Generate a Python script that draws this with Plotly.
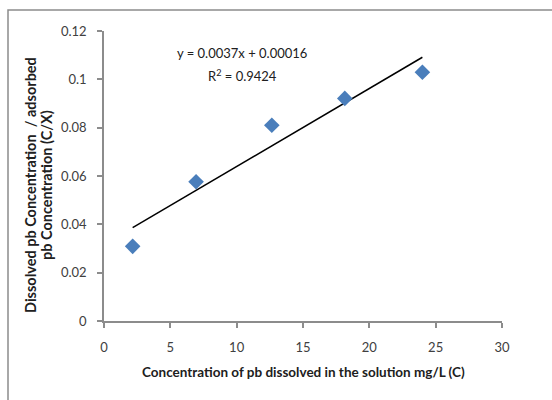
import numpy as np
import plotly.graph_objects as go

# Data
conc_c = [2.16, 6.94, 12.65, 18.15, 24.0]
c_over_x = [0.0309, 0.0576, 0.0810, 0.0921, 0.1029]
x_ticks = [0, 5, 10, 15, 20, 25, 30]
y_ticks = [0, 0.02, 0.04, 0.06, 0.08, 0.1, 0.12]
y_tick_labels = ["0", "0.02", "0.04", "0.06", "0.08", "0.1", "0.12"]
eq_line1 = "y = 0.0037x + 0.00016"
eq_line2 = "R<sup>2</sup> = 0.9424"
x_title = "Concentration of pb dissolved in the solution mg/L (C)"
y_title_line1 = "Dissolved pb Concentration  / adsorbed"
y_title_line2 = "pb Concentration (C/X)"

# linear trendline fitted to the data
slope, intercept = np.polyfit(conc_c, c_over_x, 1)
tx = [min(conc_c), max(conc_c)]
ty = [slope * v + intercept for v in tx]

FONT = "Lato"
fig = go.Figure()
fig.add_trace(go.Scatter(x=tx, y=ty, mode="lines",
                         line=dict(color="black", width=1.5),
                         hoverinfo="skip", showlegend=False))
fig.add_trace(go.Scatter(x=conc_c, y=c_over_x, mode="markers",
                         marker=dict(symbol="diamond", size=12, color="#4a7ebb",
                                     line=dict(width=0)),
                         showlegend=False))

axis_common = dict(showgrid=False, zeroline=False, showline=True,
                   linecolor="#8c8c8c", linewidth=1.5,
                   ticks="outside", ticklen=5, tickcolor="#8c8c8c", tickwidth=1.5,
                   tickfont=dict(family=FONT, size=13, color="#404040"))

fig.update_xaxes(range=[0, 30], tickvals=x_ticks, ticklabelstandoff=9, **axis_common)
fig.update_yaxes(range=[0, 0.12], tickvals=y_ticks, ticktext=y_tick_labels,
                 ticklabelstandoff=8, **axis_common)

L, R, T, B = 104, 50, 31, 79
W, H = 552, 400
pw, ph = W - L - R, H - T - B

def px_x(p):
    return (p - L) / pw

def px_y(p):
    return 1 - (p - T) / ph

fig.add_annotation(text=eq_line1, xref="paper", yref="paper",
                   x=px_x(242), y=px_y(53), showarrow=False,
                   font=dict(family=FONT, size=13, color="#202020"),
                   xanchor="center", yanchor="middle")
fig.add_annotation(text=eq_line2, xref="paper", yref="paper",
                   x=px_x(242), y=px_y(75), showarrow=False,
                   font=dict(family=FONT, size=13, color="#202020"),
                   xanchor="center", yanchor="middle")
fig.add_annotation(text="<b>" + x_title + "</b>", xref="paper", yref="paper",
                   x=px_x(303), y=px_y(372), showarrow=False,
                   font=dict(family=FONT, size=13.5, color="#202020"),
                   xanchor="center", yanchor="middle")
for txt, xp in ((y_title_line1, 30), (y_title_line2, 46)):
    fig.add_annotation(text="<b>" + txt + "</b>", xref="paper", yref="paper",
                       x=px_x(xp), y=px_y(185), showarrow=False,
                       textangle=-90,
                       font=dict(family=FONT, size=14.5, color="#202020"),
                       xanchor="center", yanchor="middle", align="center")

# outer chart frame
fig.add_shape(type="rect", xref="paper", yref="paper",
              x0=px_x(8), x1=px_x(560),
              y0=px_y(410), y1=px_y(10),
              line=dict(color="#8c8c8c", width=1.5), layer="below")

fig.update_layout(width=W, height=H, margin=dict(l=L, r=R, t=T, b=B),
                  paper_bgcolor="white", plot_bgcolor="white",
                  font=dict(family=FONT))
fig.write_html("out.html")
